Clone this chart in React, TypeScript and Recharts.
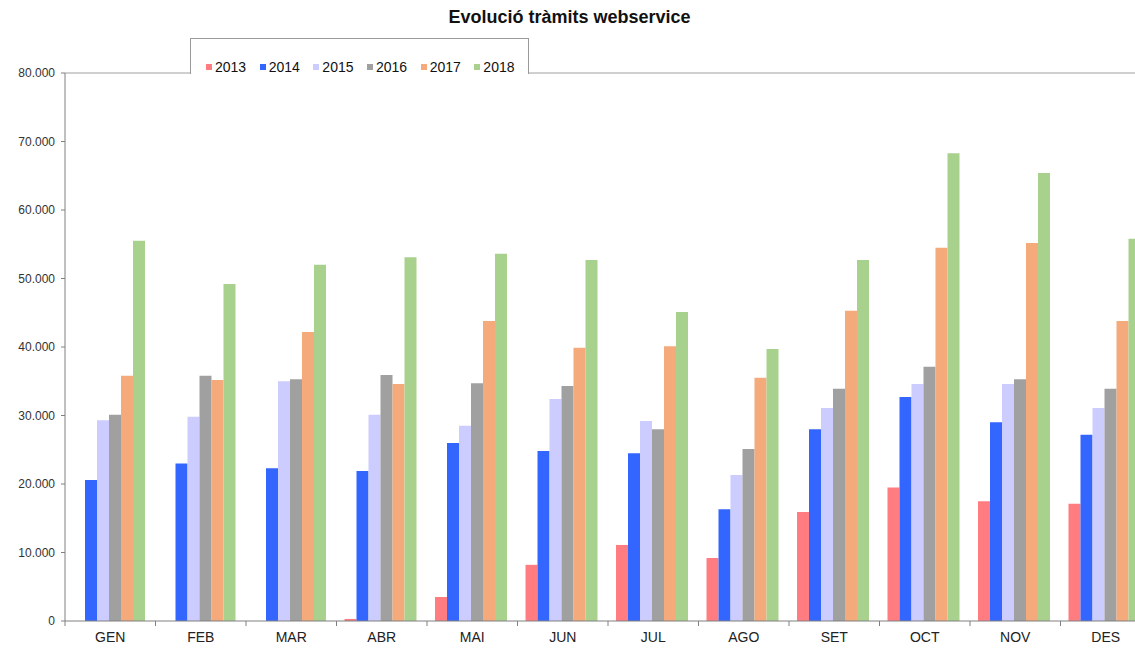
import { Bar, BarChart, Legend, ReferenceLine, XAxis, YAxis } from "recharts";

const months = ["GEN", "FEB", "MAR", "ABR", "MAI", "JUN", "JUL", "AGO", "SET", "OCT", "NOV", "DES"];
const years = ["2013", "2014", "2015", "2016", "2017", "2018"];

const v2013 = [0, 0, 0, 300, 3500, 8200, 11100, 9200, 15900, 19500, 17500, 17100];
const v2014 = [20600, 23000, 22300, 21900, 26000, 24800, 24500, 16300, 28000, 32700, 29000, 27200];
const v2015 = [29300, 29800, 35000, 30100, 28500, 32400, 29200, 21300, 31100, 34600, 34600, 31100];
const v2016 = [30100, 35800, 35300, 35900, 34700, 34300, 28000, 25100, 33900, 37100, 35300, 33900];
const v2017 = [35800, 35200, 42200, 34600, 43800, 39900, 40100, 35500, 45300, 54500, 55200, 43800];
const v2018 = [55500, 49200, 52000, 53100, 53600, 52700, 45100, 39700, 52700, 68300, 65400, 55800];

const yTicks = [0, 10000, 20000, 30000, 40000, 50000, 60000, 70000, 80000];

const colors = ["#FF7C80", "#3366FF", "#CCCCFF", "#A0A0A0", "#F4AA7A", "#A9D18E"];

const series = [v2013, v2014, v2015, v2016, v2017, v2018];
const data = months.map((m, i) => {
  const row: Record<string, string | number> = { month: m };
  years.forEach((y, j) => (row[y] = series[j][i]));
  return row;
});

const FONT = "'Liberation Sans', Arial, sans-serif";
const W = 1160;
const H = 648;
const MARGIN = { top: 73, right: 9, bottom: 5, left: 8 };
const Y_W = 57;
const BAND = (W - MARGIN.left - MARGIN.right - Y_W) / months.length;

const fmt = (v: number) => v.toLocaleString("de-DE");

function MonthTick(props: any) {
  const { x, y, payload } = props;
  return (
    <g>
      <line x1={x - BAND / 2} x2={x - BAND / 2} y1={y} y2={y + 5} stroke="#808080" />
      <text x={x} y={y + 21} textAnchor="middle" fontSize={14} fill="#222" fontFamily={FONT}>
        {payload.value}
      </text>
    </g>
  );
}

function LegendBox() {
  return (
    <div
      style={{
        width: "100%",
        height: "100%",
        boxSizing: "border-box",
        background: "#fff",
        border: "1px solid #9a9a9a",
        borderBottom: "none",
        paddingTop: 20,
        paddingLeft: 15,
        display: "flex",
        fontFamily: FONT,
        fontSize: 14,
        color: "#111",
      }}
    >
      {years.map((y, i) => (
        <div key={y} style={{ display: "flex", alignItems: "center", width: 55 }}>
          <span style={{ width: 6, height: 6, background: colors[i], marginRight: 3 }} />
          <span>{y}</span>
        </div>
      ))}
    </div>
  );
}

export default function App() {
  return (
    <div
      style={{
        position: "fixed",
        left: 0,
        top: 0,
        width: 1135,
        height: 648,
        overflow: "hidden",
        background: "#fff",
        fontFamily: FONT,
      }}
    >
      <div
        style={{
          position: "absolute",
          top: 7,
          left: 2,
          width: 1135,
          textAlign: "center",
          fontWeight: "bold",
          fontSize: 18,
          color: "#111",
        }}
      >
        Evolució tràmits webservice
      </div>
      <BarChart width={W} height={H} data={data} margin={MARGIN} barCategoryGap={8} barGap={0}>
        <XAxis
          dataKey="month"
          tickLine={false}
          tickSize={0}
          tickMargin={0}
          height={22}
          axisLine={{ stroke: "#808080" }}
          tick={<MonthTick />}
        />
        <YAxis
          width={Y_W}
          domain={[0, 80000]}
          ticks={yTicks}
          tickFormatter={fmt}
          tickSize={4}
          tickMargin={6}
          axisLine={{ stroke: "#808080" }}
          tickLine={{ stroke: "#808080" }}
          tick={{ fontSize: 12, fill: "#333", fontFamily: FONT }}
        />
        <ReferenceLine y={80000} stroke="#a0a0a0" />
        <Legend
          layout="horizontal"
          verticalAlign="middle"
          align="center"
          content={<LegendBox />}
          wrapperStyle={{ left: 190, top: 38, width: 339, height: 36, bottom: "auto", right: "auto" }}
        />
        {years.map((y, i) => (
          <Bar key={y} dataKey={y} fill={colors[i]} isAnimationActive={false} />
        ))}
      </BarChart>
    </div>
  );
}
